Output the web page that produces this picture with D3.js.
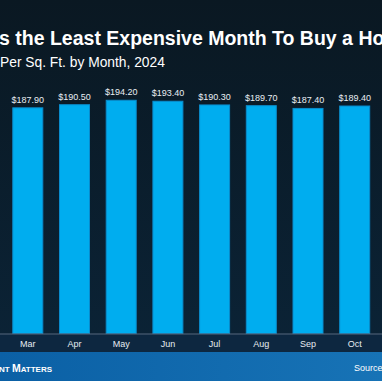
<!DOCTYPE html>
<html>
<head>
<meta charset="utf-8">
<script src="https://cdn.jsdelivr.net/npm/d3@7/dist/d3.min.js"></script>
<style>
  html, body { margin: 0; padding: 0; background: #0b1b28; }
  svg { display: block; }
  text { font-family: "Liberation Sans", Arial, sans-serif; }
</style>
</head>
<body>
<svg id="chart" width="382" height="381"></svg>
<script>
const months = ["Mar", "Apr", "May", "Jun", "Jul", "Aug", "Sep", "Oct"];
const prices = [187.90, 190.50, 194.20, 193.40, 190.30, 189.70, 187.40, 189.40];
const titleText = "s the Least Expensive Month To Buy a Ho";
const subtitleText = "Per Sq. Ft. by Month, 2024";

const W = 382, H = 381;
const svg = d3.select("#chart");
const defs = svg.append("defs");

const bg = defs.append("linearGradient").attr("id", "bg").attr("x1", 0).attr("y1", 0).attr("x2", 0).attr("y2", 1);
bg.append("stop").attr("offset", "0%").attr("stop-color", "#0a1822");
bg.append("stop").attr("offset", "100%").attr("stop-color", "#0b2438");

const ft = defs.append("linearGradient").attr("id", "ft").attr("x1", 0).attr("y1", 0).attr("x2", 1).attr("y2", 0);
ft.append("stop").attr("offset", "0%").attr("stop-color", "#0b60a5");
ft.append("stop").attr("offset", "100%").attr("stop-color", "#1773b6");

svg.append("rect").attr("width", W).attr("height", H).attr("fill", "url(#bg)");

const baseY = 333.5;
const x = d3.scaleBand().domain(months).range([4.45, 378.05]).paddingInner(0.336).paddingOuter(0.168);
const y = d3.scaleLinear().domain([0, 200]).range([baseY, baseY - 240.2]);

// label strip under axis
svg.append("rect").attr("x", 0).attr("y", baseY).attr("width", W).attr("height", 352 - baseY).attr("fill", "#0d2740");

// bars
svg.append("g").selectAll("rect").data(months).join("rect")
  .attr("x", d => x(d) + 0.5)
  .attr("y", (d, i) => y(prices[i]))
  .attr("width", x.bandwidth() - 1)
  .attr("height", (d, i) => baseY - y(prices[i]))
  .attr("fill", "#00adef")
  .attr("stroke", "#0a8ccc")
  .attr("stroke-width", 1);

// value labels
svg.append("g").selectAll("text").data(months).join("text")
  .attr("x", d => x(d) + x.bandwidth() / 2)
  .attr("y", (d, i) => y(prices[i]) - 5)
  .attr("text-anchor", "middle")
  .attr("font-size", 9)
  .attr("fill", "#e9eef3")
  .text((d, i) => "$" + prices[i].toFixed(2));

// axis
const axis = d3.axisBottom(x).tickSize(0).tickPadding(7);
const ag = svg.append("g").attr("transform", `translate(0,${baseY})`).call(axis);
ag.select(".domain").remove();
ag.append("line").attr("x1", 0).attr("x2", W).attr("y1", 0.5).attr("y2", 0.5).attr("stroke", "#56677a").attr("stroke-width", 1);
ag.selectAll(".tick text")
  .attr("font-size", 9)
  .attr("fill", "#e6ecf2")
  .attr("font-family", "'Liberation Sans', Arial, sans-serif");

// footer
svg.append("rect").attr("x", 0).attr("y", 352).attr("width", W).attr("height", H - 352).attr("fill", "url(#ft)");
const brand = svg.append("text").attr("x", -1).attr("y", 372).attr("fill", "#ffffff").attr("font-weight", "bold");
brand.append("tspan").attr("font-size", 8).text("NT ");
brand.append("tspan").attr("font-size", 10.5).text("M");
brand.append("tspan").attr("font-size", 8).text("ATTERS");
svg.append("text").attr("x", 354).attr("y", 371).attr("font-size", 9).attr("fill", "#ffffff").text("Source");

// titles
svg.append("text").attr("x", -1).attr("y", 45).attr("font-size", 19.5).attr("font-weight", "bold").attr("fill", "#ffffff").text(titleText);
svg.append("text").attr("x", 0).attr("y", 67).attr("font-size", 13.8).attr("fill", "#ffffff").text(subtitleText);
</script>
</body>
</html>
